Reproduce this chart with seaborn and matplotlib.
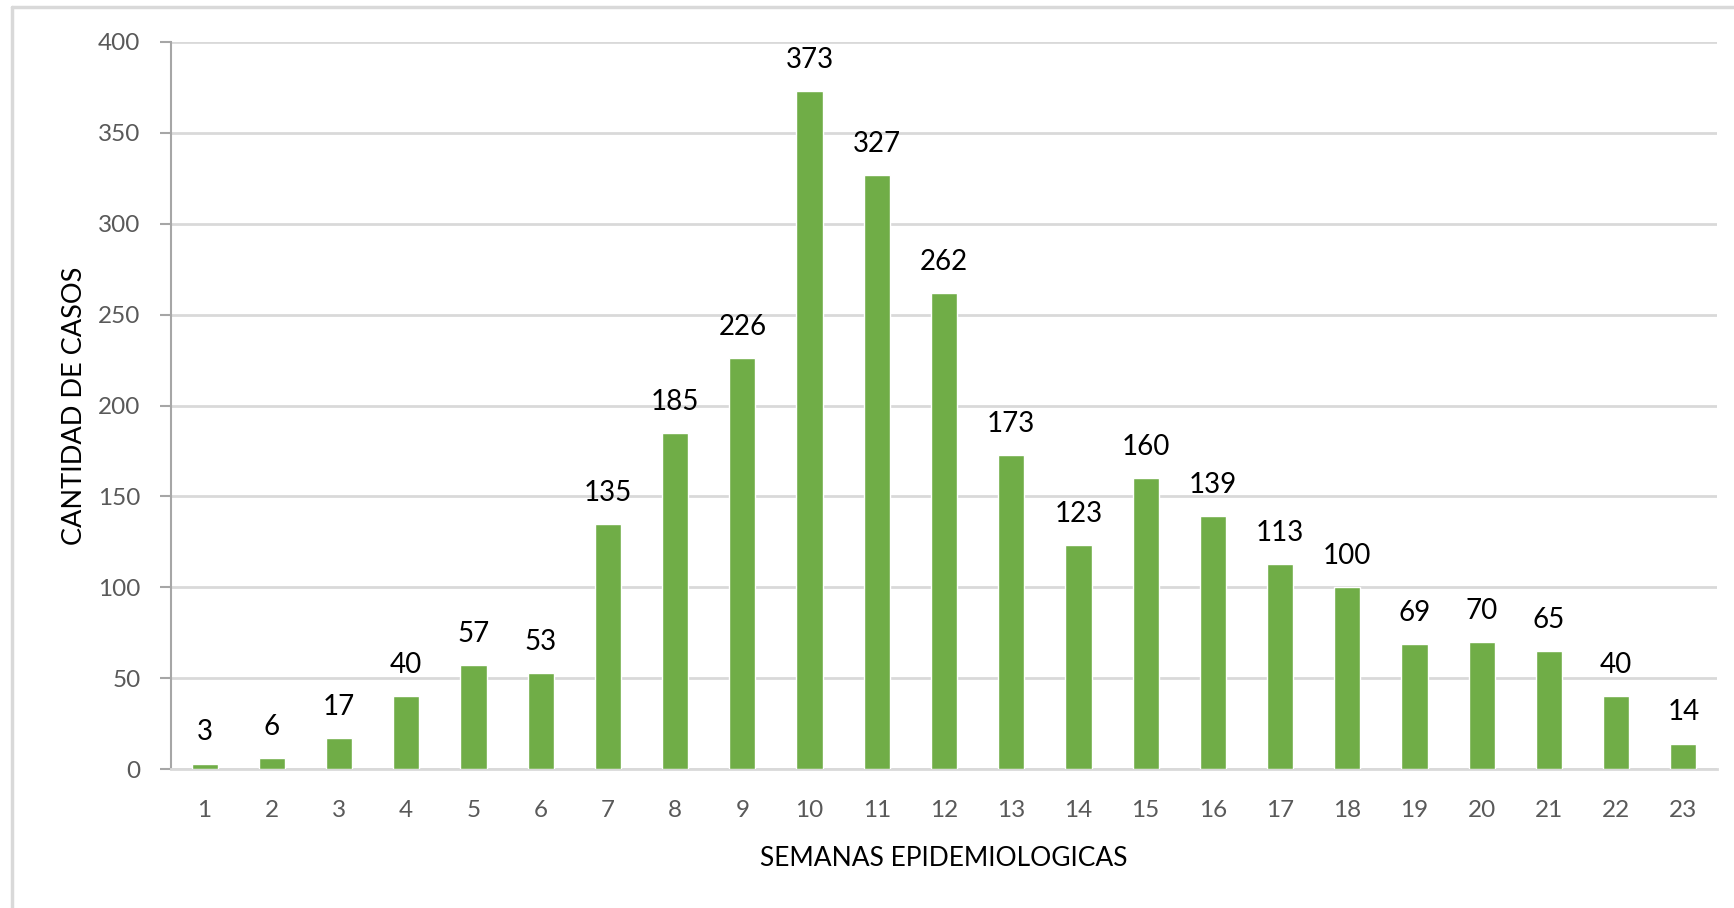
import pandas as pd
import matplotlib.pyplot as plt
import seaborn as sns
from matplotlib.lines import Line2D

# data
semanas = [str(i) for i in range(1, 24)]
casos = [3, 6, 17, 40, 57, 53, 135, 185, 226, 373, 327, 262, 173, 123, 160, 139, 113, 100, 69, 70, 65, 40, 14]
y_ticks = [0, 50, 100, 150, 200, 250, 300, 350, 400]

df = pd.DataFrame({"semana": semanas, "casos": casos})

sns.set_theme(style="white")
plt.rcParams["font.family"] = ["Lato", "DejaVu Sans"]

bar_color = "#70AD47"
grid_color = "#D9D9D9"
tick_color = "#595959"

fig = plt.figure(figsize=(17.34, 9.08), dpi=100)
ax = fig.add_axes([171 / 1734, 1 - 769 / 908, (1717 - 171) / 1734, (769 - 42) / 908])

sns.barplot(data=df, x="semana", y="casos", color=bar_color, width=0.39,
            saturation=1, ax=ax, zorder=3)

ax.set_xlim(-0.5, 22.5)
ax.set_ylim(0, 400)
ax.set_yticks(y_ticks)
ax.yaxis.grid(True, color=grid_color, linewidth=2, zorder=0)
ax.xaxis.grid(False)

for side in ["top", "right"]:
    ax.spines[side].set_visible(False)
ax.spines["left"].set_color("#A6A6A6")
ax.spines["left"].set_linewidth(1.5)
ax.spines["bottom"].set_color(grid_color)
ax.spines["bottom"].set_linewidth(2)

ax.tick_params(axis="y", which="major", left=True, length=8, width=1.5, color="#A6A6A6",
               labelsize=17.5, labelcolor=tick_color, pad=14)
ax.tick_params(axis="x", which="major", bottom=False, labelsize=17.5, labelcolor=tick_color, pad=16)

ax.bar_label(ax.containers[0], labels=[str(v) for v in casos], padding=13,
             fontsize=20, color="#000000")

ax.set_xlabel("SEMANAS EPIDEMIOLOGICAS", fontsize=19, color="#000000", labelpad=18)
ax.set_ylabel("CANTIDAD DE CASOS", fontsize=19.5, color="#000000", labelpad=8)

# chart frame (only left and top edges visible in the picture)
fig.add_artist(Line2D([12 / 1734, 12 / 1734], [0, 1 - 7 / 908], transform=fig.transFigure,
                      color=grid_color, linewidth=2.5))
fig.add_artist(Line2D([12 / 1734, 1], [1 - 7 / 908, 1 - 7 / 908], transform=fig.transFigure,
                      color=grid_color, linewidth=2.5))

fig.savefig("out.png", dpi=100)
